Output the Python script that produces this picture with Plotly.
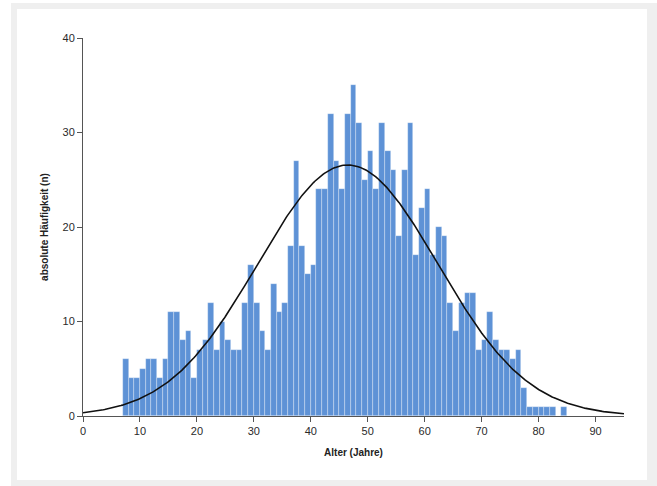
import numpy as np
import plotly.graph_objects as go

# Histogram data: age (left bin edge, 1-year bins) and absolute frequency
ages = list(range(7, 85))
counts = [6, 4, 4, 5, 6, 6, 4, 6,          # 7-14
          11, 11, 8, 9, 4, 7,              # 15-20
          8, 12, 7, 10, 8, 7, 7,           # 21-27
          12, 16, 12, 9, 7, 14, 11, 12,    # 28-35
          18, 27, 18, 15, 16, 24, 24,      # 36-42
          32, 27, 24, 32, 35, 31, 25,      # 43-49
          28, 24, 31, 28, 26, 19, 26,      # 50-56
          31, 17, 22, 24, 17, 20, 19,      # 57-63
          12, 9, 12, 13, 13, 7, 8,         # 64-70
          11, 8, 7, 7, 6, 7, 3,            # 71-77
          1, 1, 1, 1, 1, 0, 1]             # 78-84

# Normal curve parameters
curve_mean = 46.5
curve_sd = 15.8
curve_range = (0, 95)

x_ticks = [0, 10, 20, 30, 40, 50, 60, 70, 80, 90]
y_ticks = [0, 10, 20, 30, 40]

n_total = sum(counts)
xc = np.linspace(curve_range[0], curve_range[1], 400)
yc = n_total / (curve_sd * np.sqrt(2 * np.pi)) * np.exp(-0.5 * ((xc - curve_mean) / curve_sd) ** 2)

fig = go.Figure()
fig.add_trace(go.Bar(
    x=[a + 0.5 for a in ages], y=counts, width=1,
    marker=dict(color="#5e92d6", line=dict(color="rgba(255,255,255,0.5)", width=0.6)),
    showlegend=False, hoverinfo="x+y"))
fig.add_trace(go.Scatter(
    x=xc, y=yc, mode="lines", line=dict(color="#111111", width=1.6),
    showlegend=False, hoverinfo="skip"))

axis_font = dict(family="Liberation Sans, Arial, sans-serif", size=11, color="#2a2a2a")
title_font = dict(family="Liberation Sans, Arial, sans-serif", size=10, color="#222222")

fig.update_layout(
    width=657, height=486,
    margin=dict(l=83, r=33, t=38, b=70),
    paper_bgcolor="white", plot_bgcolor="white",
    bargap=0,
    shapes=[
        dict(type="rect", xref="paper", yref="paper", layer="below",
             x0=(11 - 83) / 541, x1=(657 - 83) / 541,
             y0=-(486 - 416) / 378, y1=1 + (38 - 3) / 378,
             fillcolor="#efefef", line=dict(width=0)),
        dict(type="rect", xref="paper", yref="paper", layer="below",
             x0=(17 - 83) / 541, x1=(647 - 83) / 541,
             y0=-(480 - 416) / 378, y1=1 + (38 - 9) / 378,
             fillcolor="white", line=dict(width=0)),
    ],
    xaxis=dict(range=[0, 95], tickvals=x_ticks, ticks="outside", ticklen=5,
               tickcolor="#555555", showline=True, linecolor="#555555", linewidth=1,
               showgrid=False, zeroline=False, tickfont=axis_font,
               title=dict(text="<b>Alter (Jahre)</b>", font=title_font, standoff=12)),
    yaxis=dict(range=[0, 40], tickvals=y_ticks, ticks="outside", ticklen=5,
               tickcolor="#555555", showline=True, linecolor="#555555", linewidth=1,
               showgrid=False, zeroline=False, tickfont=axis_font,
               title=dict(text="<b>absolute Häufigkeit (n)</b>", font=title_font, standoff=12)),
)

fig.write_html("out.html", config={"displayModeBar": False},
               post_script="document.body.style.margin='0';document.body.style.padding='0';")
